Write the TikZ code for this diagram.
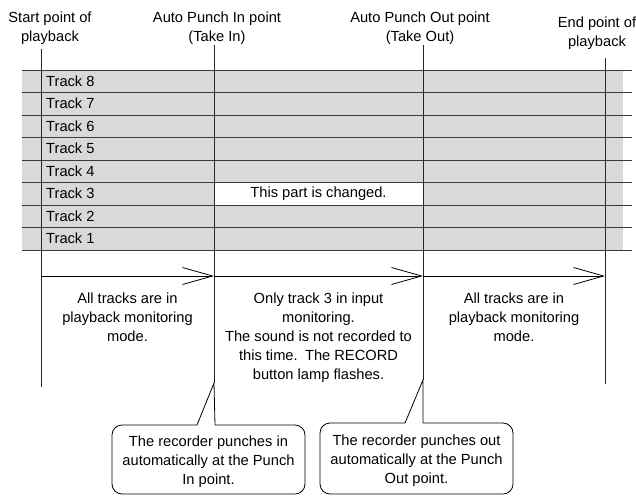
\documentclass[tikz,border=0pt]{standalone}
\usepackage{fontspec}
\setmainfont{Liberation Sans}
\usetikzlibrary{arrows.meta}
\definecolor{bandgrey}{HTML}{D9D9D9}
\definecolor{rowline}{HTML}{3A3A3A}
\begin{document}
\begin{tikzpicture}[x=1pt,y=-1pt,
  txt/.style={inner sep=0pt,align=center,font=\fontsize{14.67}{19}\selectfont},
  tracklbl/.style={inner sep=0pt,anchor=west,font=\fontsize{14.67}{19}\selectfont},
  rowrule/.style={draw=rowline,line width=0.9pt},
  vline/.style={draw=black!85,line width=0.9pt},
  flow/.style={draw=black,line width=0.8pt,-{Straight Barb[length=30pt,width=17pt,line width=0.8pt]}},
  callout/.style={draw=black,line width=0.8pt}]
\useasboundingbox (0,0) rectangle (636,495);
% band
\fill[bandgrey] (22,70) rectangle (623,250);
\fill[white] (214,182.5) rectangle (423,205);
\foreach \k in {0,...,8}{
  \draw[rowrule] (22,{70+22.5*\k}) -- (632,{70+22.5*\k});
}
\foreach \n [count=\i from 0] in {8,7,6,5,4,3,2,1}{
  \node[tracklbl] (t\n) at (46,{81.25+22.5*\i}) {Track \n};
}
\node[txt] (chg) at (318.5,193.5) {This part is changed.};
% top labels
\node[txt] (lstart) at (50,28.5) {Start point of\\playback};
\node[txt] (lin) at (217,28.5) {Auto Punch In point\\(Take In)};
\node[txt] (lout) at (420,28.5) {Auto Punch Out point\\(Take Out)};
\node[txt] (lend) at (597,33.5) {End point of\\playback};
% vertical lines
\coordinate (s1) at (41,49); \coordinate (s2) at (41,387);
\coordinate (i1) at (214,45); \coordinate (i2) at (214,383);
\coordinate (o1) at (423,45); \coordinate (o2) at (423,380);
\coordinate (e1) at (605,58); \coordinate (e2) at (605,384);
\draw[vline] (s1) -- (s2);
\draw[vline] (i1) -- (i2);
\draw[vline] (o1) -- (o2);
\draw[vline] (e1) -- (e2);
% flow arrows
\coordinate (a1) at (41,276); \coordinate (a2) at (214,276);
\coordinate (a3) at (423,276); \coordinate (a4) at (605,276);
\draw[flow] (a1) -- (a2);
\draw[flow] (a2) -- (a3);
\draw[flow] (a3) -- (a4);
% mode texts
\node[txt] (m1) at (127.5,317.5) {All tracks are in\\playback monitoring\\mode.};
\node[txt] (m2) at (318.5,338) {Only track 3 in input\\monitoring.\\The sound is not recorded to\\this time.\enspace The RECORD\\button lamp flashes.};
\node[txt] (m3) at (514,317.5) {All tracks are in\\playback monitoring\\mode.};
% callouts
\node[txt] (c1) at (208.5,461.5) {The recorder punches in\\automatically at the Punch\\In point.};
\draw[callout,rounded corners=10pt] (197,425) -| (112,494) -| (305,425) -- (215,425);
\draw[callout] (197,425) -- (i2) -- (215,425);
\node[txt] (c2) at (416.5,460.5) {The recorder punches out\\automatically at the Punch\\Out point.};
\draw[callout,rounded corners=10pt] (405,423) -| (320,494) -| (513,423) -- (423,423);
\draw[callout] (405,423) -- (o2) -- (423,423);
\end{tikzpicture}
\end{document}
